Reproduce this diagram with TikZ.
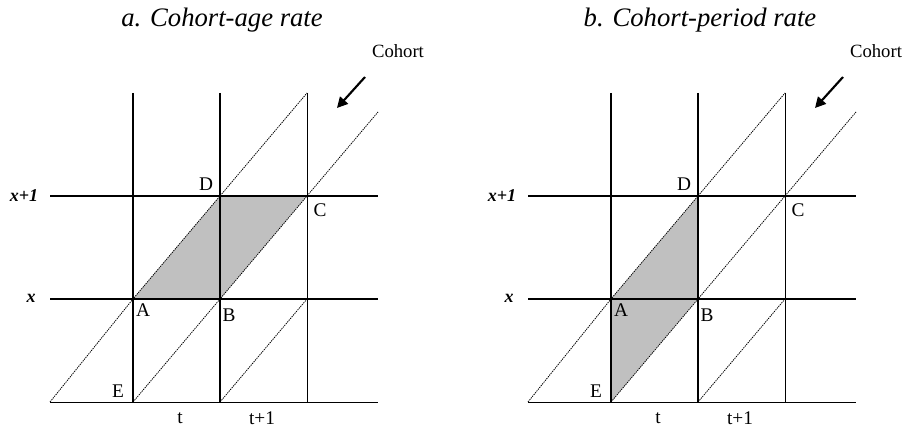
\documentclass[tikz,border=0pt]{standalone}
\usepackage{fontspec}
\setmainfont{Liberation Serif}
\usetikzlibrary{arrows.meta}
\definecolor{cellgray}{RGB}{192,192,192}

\begin{document}
\begin{tikzpicture}[
  x=0.75pt, y=-0.75pt,
  ttl/.style={font=\fontsize{20}{24}\selectfont\itshape, inner sep=0pt},
  lbl/.style={font=\fontsize{14.5}{17}\selectfont, inner sep=0pt},
  axl/.style={font=\fontsize{13.5}{16}\selectfont\bfseries\itshape, inner sep=0pt},
  coh/.style={font=\fontsize{14}{16}\selectfont, inner sep=0pt},
  heavy/.style={line width=2.2pt},
  light/.style={line width=0.6pt},
  diag/.style={line width=0.6pt, dash pattern=on 1pt off 0.7pt},
  cell/.style={fill=cellgray},
  cohortarr/.style={-{Triangle[length=8pt,width=8pt]}, line width=1.6pt}
]
\useasboundingbox (0,0) rectangle (903,427);

\foreach \p/\dx/\ttext/\ua/\ub/\uc/\ud in
  {a/0/Cohort-age rate/A/B/C/D, b/478/Cohort-period rate/E/B/D/A}{
  \begin{scope}[shift={(\dx,0)}]
    % lattice points
    \coordinate (\p-A) at (133,299);
    \coordinate (\p-B) at (220,299);
    \coordinate (\p-C) at (307,196);
    \coordinate (\p-D) at (220,196);
    \coordinate (\p-E) at (133,402);
    \coordinate (\p-lft) at (50,0);
    \coordinate (\p-rgt) at (378,0);
    \coordinate (\p-top) at (0,93);
    \coordinate (\p-end) at (378,112);

    % shaded rate area
    \fill[cell] (\p-\ua) -- (\p-\ub) -- (\p-\uc) -- (\p-\ud) -- cycle;

    % grid
    \draw[heavy] (\p-A |- \p-top) -- (\p-E);
    \draw[heavy] (\p-D |- \p-top) -- (\p-B |- \p-E);
    \draw[heavy] (\p-lft |- \p-D) -- (\p-rgt |- \p-D);
    \draw[heavy] (\p-lft |- \p-A) -- (\p-rgt |- \p-A);
    \draw[light] (\p-C |- \p-top) -- (\p-C |- \p-E);
    \draw[light] (\p-lft |- \p-E) -- (\p-rgt |- \p-E);

    % cohort lines
    \draw[diag] (\p-lft |- \p-E) -- (\p-A) -- (\p-D) -- (\p-C |- \p-top);
    \draw[diag] (\p-E) -- (\p-B) -- (\p-C) -- (\p-end);
    \draw[diag] (\p-B |- \p-E) -- (\p-C |- \p-A);

    \node[ttl] (\p-ttl) at (222,20) {\p. \ttext};
    \node[axl] (\p-x1) at (24,196) {x+1};
    \node[axl] (\p-x0) at (31,298) {x};
    \node[lbl] (\p-la) at (143,310) {A};
    \node[lbl] (\p-lb) at (229,315) {B};
    \node[lbl] (\p-lc) at (320,210) {C};
    \node[lbl] (\p-ld) at (206,184) {D};
    \node[lbl] (\p-le) at (118,391) {E};
    \node[lbl] (\p-t0) at (180,418) {t};
    \node[lbl] (\p-t1) at (262,418) {t+1};

    \node[coh] (\p-coh) at (398,51) {Cohort};
    \coordinate (\p-tail) at (365,77);
    \coordinate (\p-tip) at (337,108);
    \draw[cohortarr] (\p-tail) -- (\p-tip);
  \end{scope}
}
\end{tikzpicture}
\end{document}
